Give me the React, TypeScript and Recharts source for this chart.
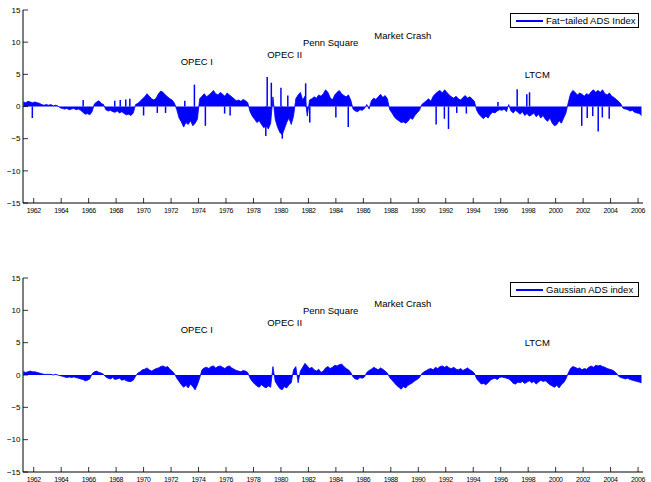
import React from "react";
import { ComposedChart, Area, Bar, XAxis, YAxis, ReferenceDot } from "recharts";

// bi-monthly samples, first one at 1961.25
const seriesStart = 1961.25;
const seriesStep = 1 / 6;

const yearTicks = [
  1962, 1964, 1966, 1968, 1970, 1972, 1974, 1976, 1978, 1980, 1982, 1984,
  1986, 1988, 1990, 1992, 1994, 1996, 1998, 2000, 2002, 2004, 2006,
];
const levelTicks = [-15, -10, -5, 0, 5, 10, 15];

const fatTailed = [
  0.7, 0.6, 0.8, 0.7, 0.6, // 1961
  0.7, 0.6, 0.5, 0.3, 0.2, 0.3, // 1962
  0.2, 0.3, 0.1, 0.2, 0.1, -0.2,
  -0.3, -0.4, -0.3, -0.5, -0.4, -0.3,
  -0.5, -0.4, -0.6, -0.9, -1.2, -1.1, // 1965
  -1.3, -0.8, 0.4, 0.7, 0.9, 0.5,
  0.3, -0.5, -0.7, -0.6, -0.8, -0.9,
  -0.7, -1.0, -0.8, -1.1, -1.3, -1.2,
  -1.4, -1.0, 0.3, 0.5, 0.8, 1.2,
  1.5, 2.0, 1.6, 1.2, 1.0, 1.3, // 1970
  2.0, 2.4, 2.2, 1.8, 1.5, 1.2,
  1.0, 0.5, -0.5, -1.8, -2.4, -3.2,
  -2.5, -2.8, -2.2, -3.0, -2.6, -2.0,
  1.2, 1.6, 2.0, 1.5, 1.8, 2.1,
  2.5, 2.0, 1.8, 2.2, 1.9, 1.6, // 1975
  2.1, 1.8, 1.5, 1.2, 0.9, 1.0,
  0.8, 1.1, 0.9, 0.6, -0.8, -1.5,
  -2.0, -2.5, -2.2, -2.8, -3.3, -3.0,
  -3.5, -2.6, 1.5, -2.0, -3.2, -4.0,
  -4.4, -3.5, -2.5, -1.8, -2.8, -1.5, // 1980
  1.2, 1.8, 2.2, 1.0, 1.6, -1.5,
  1.0, 1.2, 1.5, 1.3, 1.8, 1.6,
  2.0, 2.6, 2.2, 1.4, 1.0, 1.8,
  2.2, 2.5, 2.0, 1.7, 1.5, 1.8,
  1.0, -0.4, -0.7, -0.8, -0.5, -0.6, // 1985
  -0.3, 0.3, -0.4, 0.9, 1.3, 1.1,
  1.5, 1.9, 1.4, 1.7, 1.2, -0.5,
  -1.0, -1.6, -2.0, -2.2, -2.5, -2.4,
  -2.6, -2.3, -1.8, -2.0, -1.4, -1.0,
  -0.6, 0.3, 0.6, 0.9, 1.2, 0.8, // 1990
  1.6, 2.0, 2.3, 2.5, 2.1, 2.6,
  2.2, 1.8, 1.5, 1.3, 1.6, 1.2,
  1.0, 1.4, 1.7, 1.3, 1.5, 1.2,
  0.8, -0.6, -1.2, -1.6, -1.9, -1.5,
  -1.8, -1.2, -0.9, -1.0, -0.7, -0.5, // 1995
  -0.6, -0.4, -0.8, 0.3, -0.7, -1.0,
  -0.6, -0.9, -1.2, -0.8, -1.4, -1.1,
  -1.5, -1.3, -1.0, -1.6, -1.2, -1.8,
  -1.4, -2.0, -2.3, -1.8, -2.6, -3.0,
  -2.8, -2.2, -2.6, -1.8, -1.0, 0.6, // 2000
  2.0, 2.5, 2.2, 1.8, 2.1, 1.9,
  1.6, 2.0, 1.8, 2.3, 2.6, 2.2,
  2.5, 2.2, 2.6, 2.0, 1.8, 2.1,
  1.6, 1.4, 1.1, 0.8, 0.4, -0.3,
  -0.4, -0.5, -0.7, -0.6, -0.9, -1.0, // 2005
  -1.1, -1.4,
];

// isolated one-day jumps of the fat-tailed index: [date, value]
const fatTailedSpikes = [
  [1961.9, -1.8], [1965.6, 1.0], [1967.9, 0.9], [1968.3, 1.0], [1968.7, 1.1],
  [1969.0, 1.2], [1970.0, -1.4], [1971.0, -1.0], [1971.6, -1.0], [1973.0, 0.9],
  [1973.7, 3.4], [1974.5, -3.0], [1975.9, -1.1], [1976.3, -1.4], [1978.9, -4.6],
  [1979.0, 4.6], [1979.3, 3.7], [1980.0, 2.9], [1980.1, -5.0], [1980.5, 1.7],
  [1981.8, 3.6], [1982.1, -2.5], [1984.0, -1.7], [1984.9, -3.2], [1991.3, -2.8],
  [1991.9, -1.9], [1992.2, -3.5], [1992.8, -1.0], [1993.5, -1.1], [1995.8, 0.7],
  [1997.2, 2.7], [1997.9, 1.9], [1998.1, 2.2], [2001.9, -3.0], [2002.3, -1.8],
  [2002.7, -1.5], [2003.1, -3.9], [2003.4, -1.7], [2003.9, -1.9],
];

const gaussian = [
  0.5, 0.4, 0.5, 0.6, 0.5, // 1961
  0.5, 0.4, 0.3, 0.2, 0.1, 0.1,
  0.1, 0.1, 0.0, 0.1, 0.0, -0.1,
  -0.2, -0.3, -0.4, -0.3, -0.4, -0.3,
  -0.4, -0.5, -0.6, -0.7, -0.9, -0.8, // 1965
  -0.6, 0.2, 0.5, 0.6, 0.4, 0.3,
  0.1, -0.3, -0.5, -0.6, -0.4, -0.7,
  -0.6, -0.5, -0.8, -0.7, -0.9, -1.0,
  -1.0, -0.8, -0.2, 0.3, 0.5, 0.8,
  0.9, 1.1, 0.8, 0.6, 0.8, 1.0, // 1970
  1.1, 1.3, 1.4, 1.2, 1.3, 0.9,
  0.6, 0.2, -0.5, -1.0, -1.5, -1.9,
  -1.6, -2.0, -1.4, -1.8, -2.3, -1.5,
  -0.5, 0.8, 1.1, 1.2, 1.0, 1.3,
  1.4, 1.1, 1.3, 1.4, 1.2, 1.0, // 1975
  1.3, 1.4, 1.1, 0.9, 0.7, 0.6,
  0.5, 0.7, 0.6, 0.4, -0.5, -1.0,
  -1.4, -1.7, -1.9, -1.5, -1.8, -2.0,
  -1.7, -1.9, 1.3, -1.0, -1.6, -2.1,
  -2.3, -1.8, -2.0, -1.5, -1.2, 0.8, // 1980
  1.3, -1.2, 0.6, 1.2, 1.8, 1.4,
  1.0, 1.2, 0.8, 0.6, 0.9, 0.4,
  0.6, 1.1, 1.3, 1.0, 1.2, 1.5,
  1.4, 1.6, 1.7, 1.3, 1.0, 0.8,
  0.4, -0.3, -0.6, -0.7, -0.4, -0.5, // 1985
  -0.3, 0.4, 0.7, 0.9, 1.2, 1.0,
  0.8, 1.1, 0.9, 0.6, 0.3, -0.4,
  -0.8, -1.2, -1.6, -1.9, -2.2, -1.8,
  -2.0, -1.6, -1.4, -1.2, -0.9, -0.7,
  -0.4, 0.2, 0.5, 0.7, 0.9, 1.0, // 1990
  0.8, 1.2, 1.0, 1.3, 1.4, 1.2,
  1.4, 1.1, 1.0, 1.2, 0.9, 0.8,
  1.0, 0.7, 0.9, 1.1, 0.8, 0.6,
  0.3, -0.6, -1.0, -1.4, -1.3, -1.5,
  -1.2, -0.8, -0.6, -0.5, -0.7, -0.4, // 1995
  -0.3, -0.4, -0.5, -0.6, -0.9, -1.3,
  -1.4, -1.1, -1.2, -1.0, -1.3, -1.1,
  -0.9, -1.2, -1.0, -1.4, -1.1, -0.8,
  -1.0, -0.9, -1.2, -1.5, -1.7, -1.9,
  -1.6, -2.0, -1.5, -1.2, -0.6, 0.3, // 2000
  1.0, 1.3, 1.2, 1.0, 1.1, 0.8,
  1.0, 0.9, 1.2, 1.4, 1.2, 1.5,
  1.4, 1.5, 1.3, 1.2, 1.0, 0.9,
  0.8, 0.6, 0.3, -0.2, -0.4, -0.5,
  -0.6, -0.5, -0.7, -0.8, -0.9, -1.0, // 2005
  -1.1, -1.2,
];

const events = [
  { label: "OPEC I", year: 1972.7, level: 7 },
  { label: "OPEC II", year: 1979.0, level: 8.1 },
  { label: "Penn Square", year: 1981.6, level: 10 },
  { label: "Market Crash", year: 1986.8, level: 11 },
  { label: "LTCM", year: 1997.75, level: 5 },
];

const font = "'Liberation Sans', Arial, Helvetica, sans-serif";
const blue = "#0000ff";
const xDomain = [1961.22, 2006.36];

type Row = { t: number; v?: number; s?: number };

function buildRows(values: number[], spikes: number[][]): Row[] {
  const rows: Row[] = values.map((v, i) => ({ t: seriesStart + i * seriesStep, v }));
  for (const [t, s] of spikes) rows.push({ t, s });
  return rows.sort((a, b) => a.t - b.t);
}

const minus = (n: number) => String(n).replace("-", "\u2212");

function BottomTick({ x, y, payload }: any) {
  return (
    <g>
      <line x1={x} x2={x} y1={y} y2={y - 5} stroke="#000" strokeWidth={0.8} />
      <text x={x} y={y + 9.5} textAnchor="middle" fontSize={7} letterSpacing={-0.4} fill="#000" fontFamily={font}>
        {payload.value}
      </text>
    </g>
  );
}

function TopTick({ x, y }: any) {
  return <line x1={x} x2={x} y1={y} y2={y + 5} stroke="#000" strokeWidth={0.8} />;
}

function LeftTick({ x, y, payload }: any) {
  return (
    <g>
      <line x1={x} x2={x + 5} y1={y} y2={y} stroke="#000" strokeWidth={0.8} />
      <text x={x - 2.5} y={y} dy="0.35em" textAnchor="end" fontSize={8} fill="#000" fontFamily={font}>
        {minus(payload.value)}
      </text>
    </g>
  );
}

function RightTick({ x, y }: any) {
  return <line x1={x} x2={x - 5} y1={y} y2={y} stroke="#000" strokeWidth={0.8} />;
}

// spike drawn as a solid 1.5px stroke through the bar's centre
function SpikeShape({ x, y, width, height }: any) {
  if (height == null || !isFinite(height)) return null;
  const cx = x + width / 2;
  return <line x1={cx} x2={cx} y1={y} y2={y + height} stroke={blue} strokeWidth={1.5} />;
}

function Panel({ rows, legend, height, marginTop, axisHeight, legendTop }: any) {
  const axisLine = { stroke: "#000", strokeWidth: 1 };
  return (
    <div style={{ position: "relative", width: 651, height }}>
      <ComposedChart
        width={651}
        height={height}
        data={rows}
        margin={{ top: marginTop, right: 8, bottom: 0, left: 0 }}
      >
        <XAxis
          dataKey="t"
          type="number"
          domain={xDomain}
          ticks={yearTicks}
          interval={0}
          allowDataOverflow
          height={axisHeight}
          tickSize={0}
          tickMargin={0}
          tickLine={false}
          axisLine={axisLine}
          tick={BottomTick}
        />
        <XAxis
          xAxisId="top"
          orientation="top"
          dataKey="t"
          type="number"
          domain={xDomain}
          ticks={yearTicks}
          interval={0}
          allowDataOverflow
          height={0}
          tickSize={0}
          tickMargin={0}
          tickLine={false}
          axisLine={axisLine}
          tick={TopTick}
        />
        <YAxis
          type="number"
          domain={[-15, 15]}
          ticks={levelTicks}
          interval={0}
          allowDataOverflow
          width={23}
          tickSize={0}
          tickMargin={0}
          tickLine={false}
          axisLine={axisLine}
          tick={LeftTick}
        />
        <YAxis
          yAxisId="right"
          orientation="right"
          type="number"
          domain={[-15, 15]}
          ticks={levelTicks}
          interval={0}
          allowDataOverflow
          width={0}
          tickSize={0}
          tickMargin={0}
          tickLine={false}
          axisLine={axisLine}
          tick={RightTick}
        />
        <Area
          type="linear"
          dataKey="v"
          baseValue={0}
          connectNulls
          stroke={blue}
          strokeWidth={0.8}
          fill={blue}
          fillOpacity={1}
          dot={false}
          activeDot={false}
          isAnimationActive={false}
        />
        <Bar dataKey="s" fill={blue} barSize={1.5} shape={SpikeShape} isAnimationActive={false} />
        {events.map((e) => (
          <ReferenceDot
            key={e.label}
            x={e.year}
            y={e.level}
            r={0}
            fill="none"
            stroke="none"
            label={{ value: e.label, position: "right", offset: 0, fontSize: 9.5, fill: "#000", fontFamily: font }}
          />
        ))}
      </ComposedChart>
      <div
        style={{
          position: "absolute",
          left: 510,
          top: legendTop,
          width: 127,
          height: 13,
          border: "1px solid #000",
          background: "#fff",
          display: "flex",
          alignItems: "center",
          fontFamily: font,
          fontSize: 9.5,
          whiteSpace: "nowrap",
        }}
      >
        <div style={{ width: 27, height: 2, flexShrink: 0, background: blue, marginLeft: 5, marginRight: 3 }} />
        <span>{legend}</span>
      </div>
    </div>
  );
}

export default function App() {
  const fatRows = buildRows(fatTailed, fatTailedSpikes);
  const gaussRows = buildRows(gaussian, []);
  return (
    <div style={{ position: "absolute", left: 0, top: 0, width: 651, height: 482, background: "#fff" }}>
      <Panel rows={fatRows} legend="Fat−tailed ADS Index" height={241} marginTop={10} axisHeight={38} legendTop={13} />
      <div style={{ height: 19 }} />
      <Panel rows={gaussRows} legend="Gaussian ADS index" height={222} marginTop={18} axisHeight={10} legendTop={22} />
    </div>
  );
}
